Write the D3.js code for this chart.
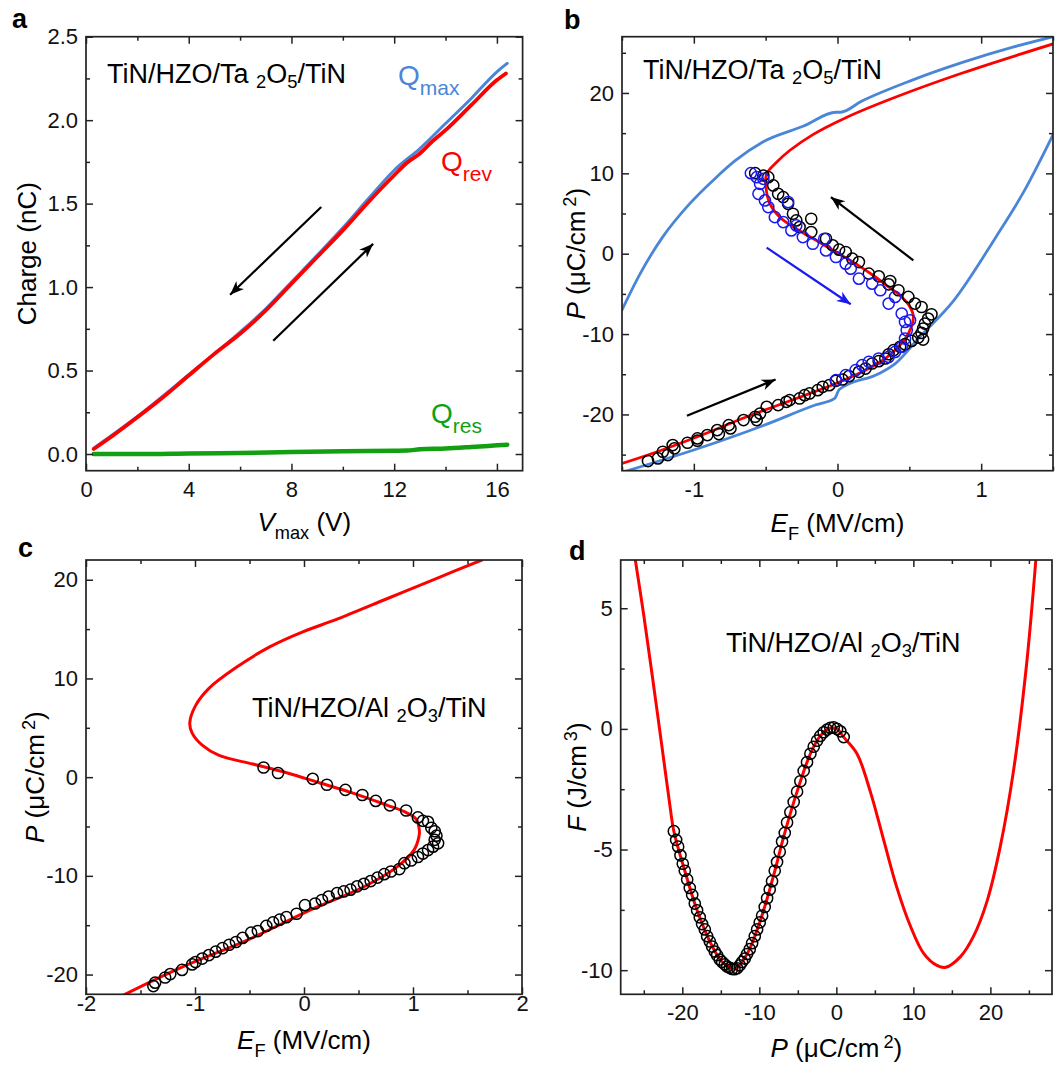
<!DOCTYPE html>
<html>
<head>
<meta charset="utf-8">
<script src="https://cdn.jsdelivr.net/npm/d3@7"></script>
<style>
  body { margin: 0; background: #fff; }
  svg { font-family: "Liberation Sans", Arial, Helvetica, sans-serif; }
</style>
</head>
<body>
<script>
// ---------- panel a : charge vs Vmax ----------
const vRev = [0.3, 1, 2, 3, 4, 5, 6, 7, 8, 9, 10, 11, 12, 12.5, 13, 13.5, 14, 15, 16, 16.35];
const qRev = [0.03, 0.105, 0.22, 0.34, 0.47, 0.6, 0.72, 0.86, 1.02, 1.18, 1.34, 1.51, 1.67, 1.745, 1.8, 1.875, 1.94, 2.09, 2.24, 2.28];
const vMax = [0.3, 2, 4, 6, 7, 8, 9, 10, 11, 12, 13, 14, 15, 16, 16.4];
const qMax = [0.035, 0.225, 0.475, 0.73, 0.87, 1.03, 1.19, 1.355, 1.53, 1.7, 1.83, 1.98, 2.13, 2.29, 2.34];
const vRes = [0.3, 2, 4, 6, 8, 10, 12, 12.5, 13, 14, 15, 16, 16.4];
const qRes = [0, 0, 0.003, 0.006, 0.012, 0.016, 0.02, 0.021, 0.028, 0.033, 0.042, 0.052, 0.056];
const arrowsA = [[9.16, 1.48, 5.61, 0.954], [7.29, 0.679, 11.18, 1.259]];

// ---------- panel b : P vs E_F, Ta2O5 stack ----------
const loopUpB = [[-1.5, -7], [-1.38, -2.7], [-1.22, 2], [-1.03, 6.2], [-0.85, 9.4], [-0.71, 11.6], [-0.52, 13.9], [-0.24, 15.85], [-0.01, 17.6], [0.02, 17.6], [0.17, 19], [0.52, 21.6], [0.87, 23.8], [1.22, 25.7], [1.5, 27]];
const loopLowB = [[-1.48, -27.1], [-0.98, -24.3], [-0.52, -21.4], [-0.15, -18.8], [-0.02, -18], [0.012, -16.9], [0.29, -14.9], [0.4, -13.7], [0.57, -10.4], [0.81, -5.8], [1.1, 2], [1.29, 7.5], [1.5, 14.8]];
const modelB = [[-1.5, -26.1], [-1.32, -25.05], [-0.975, -22.77], [-0.631, -20.29], [-0.287, -18.01], [-0.011, -16.15], [0.172, -14.7], [0.333, -13.04], [0.424, -11.59], [0.493, -9.94], [0.528, -7.87], [0.505, -6.63], [0.447, -5.38], [0.356, -4.14], [0.264, -2.9], [0.126, -1.24], [-0.011, 0.21], [-0.149, 1.66], [-0.287, 3.11], [-0.401, 4.55], [-0.47, 6.21], [-0.498, 8.28], [-0.493, 9.94], [-0.424, 11.39], [-0.333, 12.84], [-0.174, 14.79], [0.058, 16.92], [0.406, 19.49], [0.869, 22.48], [1.5, 26.1]];
const blackB = [[-1.319, -25.8], [-1.25, -25.47], [-1.216, -24.64], [-1.181, -25.05], [-1.147, -23.81], [-1.135, -24.22], [-1.044, -23.52], [-0.975, -22.98], [-0.975, -23.27], [-0.906, -22.57], [-0.837, -21.95], [-0.826, -22.44], [-0.757, -21.33], [-0.745, -21.74], [-0.654, -20.7], [-0.573, -20.29], [-0.562, -20.7], [-0.539, -19.88], [-0.493, -19.05], [-0.413, -18.84], [-0.356, -18.43], [-0.333, -18.22], [-0.264, -18.01], [-0.229, -17.6], [-0.195, -17.39], [-0.138, -16.98], [-0.103, -16.56], [-0.057, -16.36], [-0.011, -15.82], [0.034, -15.65], [0.08, -15.24], [0.149, -14.7], [0.195, -14.29], [0.241, -13.66], [0.287, -13.37], [0.333, -13.04], [0.356, -12.51], [0.39, -12.01], [0.436, -11.59], [0.47, -11.26], [0.516, -10.85], [0.562, -10.43], [0.596, -10.68], [0.585, -9.86], [0.596, -9.32], [0.608, -8.7], [0.631, -8.07], [0.654, -7.54], [0.585, -6.63], [0.539, -6.21], [0.493, -5.38], [0.424, -4.55], [0.367, -3.4], [0.356, -3.81], [0.287, -2.82], [0.218, -2.48], [0.149, -1.04], [0.103, -0.62], [0.057, 0.21], [0.011, 0.5], [-0.034, 1.04], [-0.08, 1.86], [-0.183, 2.69], [-0.183, 4.35], [-0.264, 3.31], [-0.287, 4.14], [-0.31, 4.97], [-0.344, 6.21], [-0.378, 7.04], [-0.413, 7.45], [-0.447, 8.49], [-0.482, 9.52], [-0.516, 9.73], [-0.573, 10.02]];
const blueB = [[-0.603, 10.02], [-0.562, 9.52], [-0.539, 8.7], [-0.516, 9.32], [-0.55, 7.45], [-0.505, 6.63], [-0.482, 5.8], [-0.436, 4.55], [-0.378, 3.93], [-0.344, 6.42], [-0.321, 2.9], [-0.287, 3.52], [-0.241, 2.07], [-0.172, 1.24], [-0.092, 1.86], [-0.08, 0.41], [-0.011, -0.41], [0.057, -1.24], [0.092, -1.86], [0.149, -3.11], [0.241, -3.73], [0.298, -4.55], [0.356, -6.21], [0.401, -5.38], [0.447, -7.45], [0.47, -8.49], [0.505, -8.28], [0.482, -9.52], [0.47, -10.56], [0.447, -11.59], [0.401, -12.22], [0.356, -12.84], [0.287, -13.04], [0.218, -13.46], [0.172, -13.87], [0.126, -14.49], [0.057, -15.11], [-0.011, -15.73]];
const arrowsB = [[0.528, -0.83, -0.046, 7.04, "black"], [-0.493, 0.75, 0.092, -6.29, "blue"], [-1.048, -20.17, -0.431, -15.65, "black"]];

// ---------- panel c : P vs E_F, Al2O3 stack ----------
const modelC = [[-1.66, -22.1], [-1.13, -19.3], [-0.52, -16.5], [0.09, -13.3], [0.55, -11.1], [0.857, -9.06], [1.01, -7.37], [1.055, -6.0], [1.058, -5.35], [1.025, -4.2], [0.921, -3.5], [0.767, -2.86], [0.457, -1.64], [0.148, -0.59], [-0.16, 0.45], [-0.47, 1.33], [-0.779, 2.2], [-0.934, 3.24], [-1.026, 4.46], [-1.048, 5.5], [-0.995, 7.25], [-0.872, 9], [-0.624, 11.1], [-0.315, 13.2], [-0.006, 14.75], [0.303, 16], [0.767, 18.1], [1.23, 20.2], [1.632, 22]];
const circC = [[-0.371, 0.98], [-0.238, 0.42], [0.08, -0.17], [0.21, -0.77], [0.38, -1.29], [0.535, -1.81], [0.658, -2.41], [0.788, -2.86], [0.937, -3.38], [1.045, -4.08], [1.091, -4.43], [1.138, -4.53], [1.168, -5.13], [1.199, -5.48], [1.215, -5.93], [1.23, -6.7], [1.199, -6.35], [1.184, -7.04], [1.138, -7.39], [1.091, -7.74], [1.045, -8.09], [0.983, -8.44], [0.921, -8.72], [0.875, -9.31], [0.798, -9.56], [0.736, -9.83], [0.674, -10.18], [0.612, -10.53], [0.55, -10.81], [0.488, -11.06], [0.427, -11.4], [0.365, -11.58], [0.303, -11.75], [0.226, -12.1], [0.164, -12.45], [0.102, -12.8], [0.009, -12.97], [-0.068, -13.84], [-0.161, -14.19], [-0.223, -14.44], [-0.284, -14.72], [-0.346, -15.07], [-0.423, -15.59], [-0.485, -15.76], [-0.563, -16.29], [-0.624, -16.7], [-0.686, -16.98], [-0.748, -17.33], [-0.81, -17.68], [-0.872, -18.03], [-0.934, -18.38], [-0.995, -18.73], [-1.026, -18.97], [-1.119, -19.53], [-1.227, -19.95], [-1.274, -20.3], [-1.366, -20.82], [-1.382, -21.17]];

// ---------- panel d : free energy F vs P ----------
const modelD = [[-26.1, 7], [-25, 4.7], [-23.9, 2.2], [-22.7, -0.6], [-21.6, -3.2], [-21.1, -4.24], [-19.68, -5.88], [-18.08, -7.52], [-16.43, -8.81], [-14.83, -9.66], [-13.23, -9.96], [-11.59, -9.33], [-9.95, -8.02], [-8.35, -6.31], [-6.7, -4.31], [-5.1, -2.6], [-3.37, -1.03], [-2.08, -0.29], [-0.78, 0.04], [0.09, 0], [0.95, -0.34], [2.68, -1.03], [4.41, -2.6], [6.14, -4.6], [7.87, -6.59], [9.6, -8.16], [11.33, -9.3], [13.06, -9.8], [14.2, -9.88], [16.09, -9.45], [17.82, -8.59], [19.55, -7.16], [21.28, -4.88], [23, -1.74], [24.7, 2.68], [25.9, 7]];
const circP = [-21.1, -20.8, -20.54, -20.24, -19.94, -19.68, -19.37, -19.03, -18.72, -18.38, -18.08, -17.73, -17.43, -17.08, -16.78, -16.43, -16.13, -15.78, -15.48, -15.14, -14.83, -14.49, -14.18, -13.84, -13.54, -13.23, -12.89, -12.54, -12.24, -11.89, -11.59, -11.24, -10.94, -10.59, -10.29, -9.95, -9.64, -9.3, -8.99, -8.65, -8.35, -8, -7.7, -7.35, -7.05, -6.7, -6.4, -5.97, -5.54, -5.1, -4.67, -4.24, -3.81, -3.37, -2.94, -2.51, -2.08, -1.64, -1.21, -0.78, -0.35, 0.09, 0.52, 0.95];
const circF = [-4.24, -4.6, -4.88, -5.24, -5.59, -5.88, -6.24, -6.59, -6.88, -7.24, -7.52, -7.81, -8.09, -8.31, -8.59, -8.81, -9.02, -9.23, -9.38, -9.56, -9.66, -9.76, -9.85, -9.9, -9.95, -9.96, -9.92, -9.8, -9.66, -9.52, -9.33, -9.13, -8.88, -8.59, -8.31, -8.02, -7.74, -7.38, -7.02, -6.66, -6.31, -5.88, -5.52, -5.09, -4.67, -4.31, -3.88, -3.45, -3.03, -2.6, -2.17, -1.74, -1.38, -1.03, -0.74, -0.49, -0.29, -0.14, -0.03, 0.04, 0.06, 0, -0.1, -0.34];

const RED = "#ff0000", LBLUE = "#4a86d8", GREEN = "#12a012", DBLUE = "#1a1af0";
const TICK_FS = 22, TITLE_FS = 26, LABEL_FS = 27;

const svg = d3.select("body").append("svg").attr("width", 1060).attr("height", 1070);
const defs = svg.append("defs");
[["black", "black"], ["blue", DBLUE]].forEach(([n, c]) => {
    defs.append("marker").attr("id", "head-" + n)
        .attr("viewBox", "-15 -7 16 14").attr("refX", 0).attr("refY", 0)
        .attr("markerUnits", "userSpaceOnUse").attr("markerWidth", 16).attr("markerHeight", 14)
        .attr("orient", "auto")
        .append("path").attr("d", "M0,0 L-14,-5.5 L-10,0 L-14,5.5 Z").attr("fill", c);
});

// text with italic / sub / sup pieces
function rich(sel, parts, size) {
    let off = 0;
    parts.forEach(pt => {
        const shift = pt.sub ? size * (pt.k || 0.3) : pt.sup ? -size * 0.33 : 0;
        const ts = sel.append("tspan").text(pt.t).attr("dy", shift - off);
        off = shift;
        if (pt.sub || pt.sup) ts.attr("font-size", size * (pt.s || 0.7));
        if (pt.it) ts.attr("font-style", "italic");
        if (pt.dx) ts.attr("dx", pt.dx);
    });
    return sel;
}

function makePanel(o) {
    const g = svg.append("g");
    const x = d3.scaleLinear().domain(o.xd).range([o.x0, o.x1]);
    const y = d3.scaleLinear().domain(o.yd).range([o.y1, o.y0]);
    defs.append("clipPath").attr("id", "clip-" + o.name)
        .append("rect").attr("x", o.x0).attr("y", o.y0)
        .attr("width", o.x1 - o.x0).attr("height", o.y1 - o.y0);
    const plot = g.append("g").attr("clip-path", `url(#clip-${o.name})`);

    const plain = d => String(d);
    const ax = [
        [d3.axisBottom(x), o.y1, o.xMajor, o.xMinor, plain, "x"],
        [d3.axisTop(x), o.y0, o.xMajor, o.xMinor, "", "x"],
        [d3.axisLeft(y), o.x0, o.yMajor, o.yMinor, o.yFmt || plain, "y"],
        [d3.axisRight(y), o.x1, o.yMajor, o.yMinor, "", "y"],
    ];
    ax.forEach(([axis, pos, major, minor, fmt, dir]) => {
        const tr = dir === "x" ? `translate(0,${pos})` : `translate(${pos},0)`;
        const gm = g.append("g").attr("transform", tr)
            .call(axis.tickValues(major).tickSize(-7)
                .tickPadding(dir === "x" ? o.xPad : 8)
                .tickFormat(fmt));
        gm.select(".domain").remove();
        gm.selectAll("line").attr("stroke", "#222").attr("stroke-width", 1.5);
        gm.selectAll("text").attr("font-size", TICK_FS).attr("fill", "#111")
            .style("font-family", "'Liberation Sans', Arial, sans-serif");
        const gn = g.append("g").attr("transform", tr)
            .call(axis.tickValues(minor).tickSize(-4).tickFormat(""));
        gn.select(".domain").remove();
        gn.selectAll("line").attr("stroke", "#222").attr("stroke-width", 1.5);
    });
    g.append("rect").attr("x", o.x0).attr("y", o.y0)
        .attr("width", o.x1 - o.x0).attr("height", o.y1 - o.y0)
        .attr("fill", "none").attr("stroke", "#222").attr("stroke-width", 1.7);

    g.append("text").attr("x", o.lx).attr("y", o.ly).attr("font-size", 27)
        .attr("font-weight", "bold").text(o.name);
    rich(g.append("text").attr("x", (o.x0 + o.x1) / 2).attr("y", o.xty)
        .attr("text-anchor", "middle").attr("font-size", TITLE_FS), o.xTitle, TITLE_FS);
    rich(g.append("text").attr("text-anchor", "middle").attr("font-size", TITLE_FS)
        .attr("transform", `translate(${o.ytx},${(o.y0 + o.y1) / 2}) rotate(-90)`), o.yTitle, TITLE_FS);
    if (o.label) {
        rich(g.append("text").attr("x", o.label[0]).attr("y", o.label[1]).attr("font-size", LABEL_FS),
            [{ t: "TiN/HZO/" + o.label[2] + " " }, { t: "2", sub: true, k: 0.2, s: 0.68 }, { t: "O" },
             { t: o.label[3], sub: true, k: 0.2, s: 0.68 }, { t: "/TiN" }], LABEL_FS);
    }
    return { g, plot, x, y };
}

function line(p, pts, color, w, curve) {
    p.plot.append("path").datum(pts)
        .attr("d", d3.line().x(d => p.x(d[0])).y(d => p.y(d[1])).curve(curve || d3.curveCatmullRom))
        .attr("fill", "none").attr("stroke", color).attr("stroke-width", w)
        .attr("stroke-linejoin", "round").attr("stroke-linecap", "round");
}
function circles(p, pts, color) {
    p.plot.append("g").selectAll("circle").data(pts).join("circle")
        .attr("cx", d => p.x(d[0])).attr("cy", d => p.y(d[1])).attr("r", 5.6)
        .attr("fill", "none").attr("stroke", color).attr("stroke-width", 1.5);
}
function arrows(p, list) {
    p.g.selectAll(null).data(list).join("line")
        .attr("x1", d => p.x(d[0])).attr("y1", d => p.y(d[1]))
        .attr("x2", d => p.x(d[2])).attr("y2", d => p.y(d[3]))
        .attr("stroke", d => d[4] === "blue" ? DBLUE : "black").attr("stroke-width", 2.2)
        .attr("marker-end", d => `url(#head-${d[4] || "black"})`);
}

const ptitle = [{ t: "P", it: true }, { t: " (μC/cm" }, { t: "2", sup: true, dx: 4 }, { t: ")" }];
const etitle = [{ t: "E", it: true }, { t: "F", sub: true }, { t: " (MV/cm)" }];

// ---- a ----
const pa = makePanel({
    name: "a", x0: 86, x1: 522.6, y0: 36.7, y1: 470.7, xd: [0, 17], yd: [-0.1, 2.5],
    xMajor: [0, 4, 8, 12, 16], xMinor: [2, 6, 10, 14], yMajor: [0, 0.5, 1, 1.5, 2, 2.5],
    yMinor: [0.25, 0.75, 1.25, 1.75, 2.25], yFmt: d3.format(".1f"), xPad: 10.5,
    lx: 12, ly: 28, xty: 531, ytx: 36,
    xTitle: [{ t: "V", it: true }, { t: "max", sub: true }, { t: " (V)" }],
    yTitle: [{ t: "Charge (nC)" }], label: [107, 83, "Ta", "5"],
});
line(pa, d3.zip(vMax, qMax), LBLUE, 3, d3.curveMonotoneX);
line(pa, d3.zip(vRev, qRev), RED, 3.8, d3.curveMonotoneX);
line(pa, d3.zip(vRes, qRes), GREEN, 4.5, d3.curveMonotoneX);
arrows(pa, arrowsA);
[[398, 85, "max", LBLUE], [441, 171, "rev", RED], [431, 423, "res", GREEN]].forEach(([lx, ly, s, c]) => {
    rich(pa.g.append("text").attr("x", lx).attr("y", ly).attr("font-size", 28).attr("fill", c),
        [{ t: "Q" }, { t: s, sub: true, k: 0.34, s: 0.75 }], 28);
});

// ---- b ----
const pb = makePanel({
    name: "b", x0: 622, x1: 1053, y0: 36.7, y1: 470.7, xd: [-1.5, 1.5], yd: [-27, 27],
    xMajor: [-1, 0, 1], xMinor: [-1.5, -0.5, 0.5, 1.5], yMajor: [-20, -10, 0, 10, 20],
    yMinor: [-25, -15, -5, 5, 15, 25], xPad: 10.5,
    lx: 564, ly: 29, xty: 532, ytx: 585,
    xTitle: etitle, yTitle: ptitle, label: [643, 79, "Ta", "5"],
});
line(pb, loopUpB, LBLUE, 2.8, d3.curveMonotoneX);
line(pb, loopLowB, LBLUE, 2.8, d3.curveMonotoneX);
line(pb, modelB, RED, 2.8);
circles(pb, blackB, "black");
circles(pb, blueB, DBLUE);
arrows(pb, arrowsB);

// ---- c ----
const pc = makePanel({
    name: "c", x0: 86, x1: 522, y0: 560, y1: 994.3, xd: [-2, 2], yd: [-22, 22],
    xMajor: [-2, -1, 0, 1, 2], xMinor: [-1.5, -0.5, 0.5, 1.5], yMajor: [-20, -10, 0, 10, 20],
    yMinor: [-15, -5, 5, 15], xPad: 1,
    lx: 18, ly: 557, xty: 1049, ytx: 44,
    xTitle: etitle, yTitle: ptitle, label: [252, 717, "Al", "3"],
});
line(pc, modelC, RED, 3);
circles(pc, circC, "black");

// ---- d ----
const pd = makePanel({
    name: "d", x0: 620.7, x1: 1052, y0: 560, y1: 994.3, xd: [-28, 28], yd: [-11, 7],
    xMajor: [-20, -10, 0, 10, 20], xMinor: [-25, -15, -5, 5, 15, 25], yMajor: [-10, -5, 0, 5],
    yMinor: [-7.5, -2.5, 2.5], xPad: 10.5,
    lx: 569, ly: 560, xty: 1057, ytx: 586,
    xTitle: ptitle, yTitle: [{ t: "F", it: true }, { t: " (J/cm" }, { t: "3", sup: true, dx: 4 }, { t: ")" }],
    label: [726, 652, "Al", "3"],
});
line(pd, modelD, RED, 3);
circles(pd, d3.zip(circP, circF), "black");
</script>
</body>
</html>
